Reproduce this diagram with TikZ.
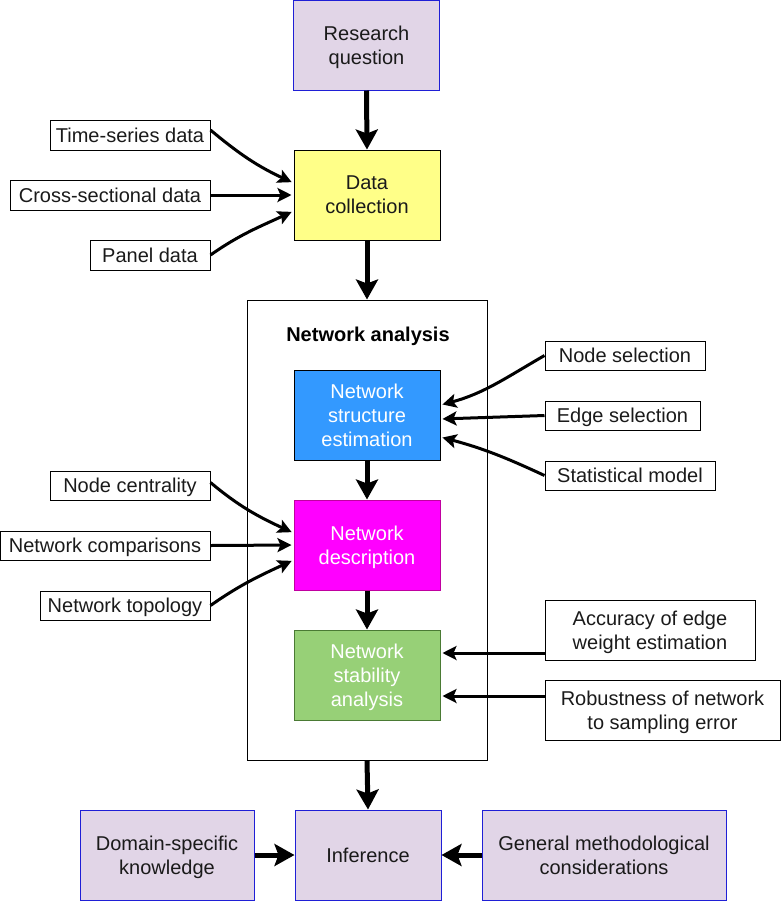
\documentclass[tikz,border=0pt]{standalone}
\usepackage{fontspec}
\setmainfont{Liberation Sans}
\usepackage{tikz}
\usetikzlibrary{arrows.meta}
\definecolor{lavender}{HTML}{E1D5E7}
\definecolor{lavline}{HTML}{1F1FD6}
\definecolor{paleyellow}{HTML}{FFFF88}
\definecolor{skyblue}{HTML}{3399FF}
\definecolor{magentabox}{HTML}{FF00FF}
\definecolor{magentaline}{HTML}{C000A0}
\definecolor{greenbox}{HTML}{97D077}
\definecolor{greenline}{HTML}{4A7A34}
\definecolor{txt}{HTML}{1A1A1A}

\begin{document}
\begin{tikzpicture}[x=0.5pt, y=-0.5pt,
		box/.style={draw, line width=0.5pt, align=center, inner sep=0pt, text depth=0pt, text=txt, font=\fontsize{10}{12}\selectfont},
		stepbox/.style={box, minimum width=73pt, minimum height=45pt},
		extbox/.style={stepbox, fill=lavender, draw=lavline},
		bigarrow/.style={line width=2.5pt, -{Stealth[length=10pt, width=11pt, inset=2pt]}},
		sidearrow/.style={line width=1.5pt, shorten >=1pt, -{Stealth[length=7pt, width=7pt, inset=1.5pt]}}]
	\useasboundingbox (0,0) rectangle (781,901);
	\node[box, minimum width=120pt, minimum height=230pt] (net) at (367,530) {};
	\node[font=\fontsize{10}{12}\selectfont\bfseries] (nettitle) at (368,336) {Network analysis};
	\node[extbox] (question) at (366.5,45) {Research\\question};
	\node[stepbox, fill=paleyellow] (collect) at (367,195) {Data\\collection};
	\node[stepbox, fill=skyblue, text=white] (estim) at (367,415) {Network\\structure\\estimation};
	\node[stepbox, fill=magentabox, draw=magentaline, text=white] (descr) at (367,545) {Network\\description};
	\node[stepbox, fill=greenbox, draw=greenline, text=white] (stabil) at (367,675) {Network\\stability\\analysis};
	\node[extbox] (infer) at (368,855) {Inference};
	\node[extbox, minimum width=87pt] (domain) at (167,855) {Domain-specific\\knowledge};
	\node[extbox, minimum width=122pt] (general) at (604,855) {General methodological\\considerations};
	\node[box, minimum width=80pt, minimum height=15pt] (timeser) at (130,135) {Time-series data};
	\node[box, minimum width=100pt, minimum height=15pt] (crosssec) at (110,195) {Cross-sectional data};
	\node[box, minimum width=60pt, minimum height=15pt] (panel) at (150,255) {Panel data};
	\node[box, minimum width=80pt, minimum height=14.5pt] (nodesel) at (625,355.5) {Node selection};
	\node[box, minimum width=77.5pt, minimum height=14.5pt] (edgesel) at (622.5,415.5) {Edge selection};
	\node[box, minimum width=85pt, minimum height=14.5pt] (statmod) at (630,475.5) {Statistical model};
	\node[box, minimum width=80pt, minimum height=14.5pt] (centr) at (130,485.5) {Node centrality};
	\node[box, minimum width=105pt, minimum height=14.5pt] (compar) at (105,545.5) {Network comparisons};
	\node[box, minimum width=85pt, minimum height=14.5pt] (topol) at (125,605.5) {Network topology};
	\node[box, minimum width=105pt, minimum height=30pt] (accur) at (650,630) {Accuracy of edge\\weight estimation};
	\node[box, minimum width=117.5pt, minimum height=30pt] (robust) at (662.5,710) {Robustness of network\\to sampling error};
	\draw[bigarrow] (question.south) -- (collect.north);
	\draw[bigarrow] (collect.south) -- (net.north);
	\draw[bigarrow] (estim.south) -- (descr.north);
	\draw[bigarrow] (descr.south) -- (stabil.north);
	\draw[bigarrow] (net.south) -- (infer.north);
	\draw[bigarrow] (domain.east) -- (infer.west);
	\draw[bigarrow] (general.west) -- (infer.east);
	\draw[sidearrow] ([yshift=2.5pt]timeser.east) to[out=-40, in=155] ([yshift=6pt]collect.west);
	\draw[sidearrow] (crosssec.east) -- (collect.west);
	\draw[sidearrow] (panel.east) to[out=35, in=-155] ([yshift=-8pt]collect.west);
	\draw[sidearrow] ([yshift=1.5pt]centr.east) to[out=-40, in=155] ([yshift=6pt]descr.west);
	\draw[sidearrow] (compar.east) -- (descr.west);
	\draw[sidearrow] (topol.east) to[out=35, in=-155] ([yshift=-7.5pt]descr.west);
	\draw[sidearrow] (nodesel.west) to[out=-150, in=15] ([yshift=5pt]estim.east);
	\draw[sidearrow] (edgesel.west) -- ([yshift=-2pt]estim.east);
	\draw[sidearrow] (statmod.west) to[out=155, in=-15] ([yshift=-11pt]estim.east);
	\draw[sidearrow] ([yshift=-11.5pt]accur.west) -- ([yshift=11pt]stabil.east);
	\draw[sidearrow] ([yshift=7pt]robust.west) -- ([yshift=-10.5pt]stabil.east);
\end{tikzpicture}
\end{document}
